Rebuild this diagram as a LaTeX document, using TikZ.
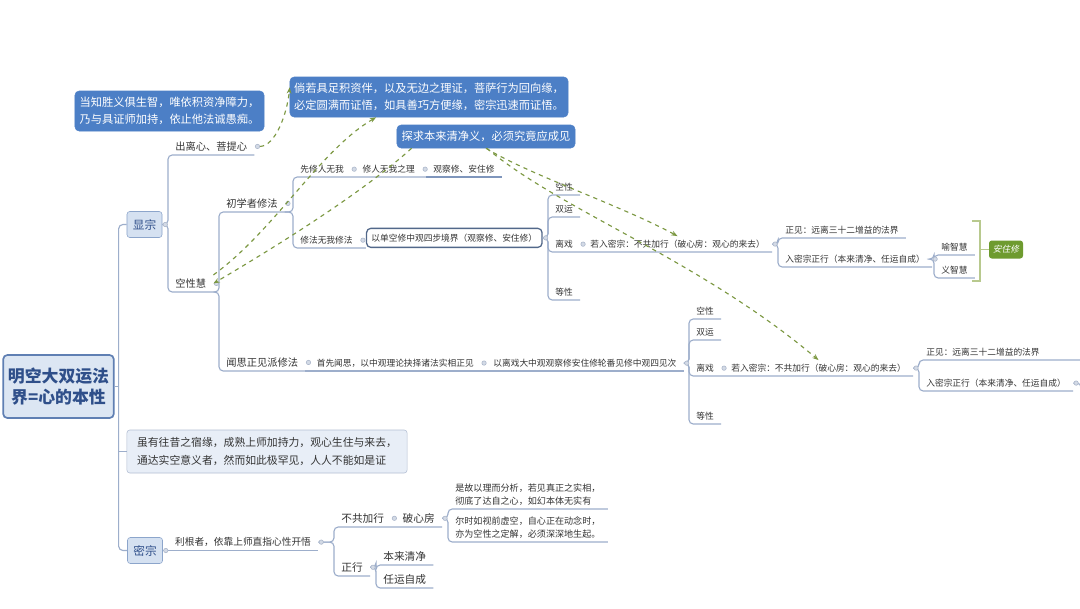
\documentclass[tikz,border=0pt]{standalone}
\usepackage{fontspec}
\setmainfont{Noto Sans CJK SC}
\newfontfamily\slantcjk{Noto Sans CJK SC}[FakeSlant=0.2]
\usetikzlibrary{arrows.meta,positioning,calc}

\definecolor{linec}{HTML}{9DAECB}
\definecolor{txtc}{HTML}{333333}
\definecolor{calloutc}{HTML}{4C7FC6}
\definecolor{rootf}{HTML}{DCE6F3}
\definecolor{rootd}{HTML}{5F7FB3}
\definecolor{roott}{HTML}{2F4F8A}
\definecolor{secf}{HTML}{D5E1F1}
\definecolor{secd}{HTML}{8CA5CB}
\definecolor{notef}{HTML}{E8EEF7}
\definecolor{noted}{HTML}{B3BFD3}
\definecolor{boxd}{HTML}{52688A}
\definecolor{selc}{HTML}{7F96BC}
\definecolor{relc}{HTML}{7C9842}
\definecolor{mkf}{HTML}{D3DAE6}
\definecolor{mkd}{HTML}{A9B5C9}
\definecolor{sumc}{HTML}{B8C98E}
\definecolor{greenbox}{HTML}{6E9B2F}

\newcommand\fsS{\fontsize{6.2}{7.6}\selectfont}
\newcommand\fsM{\fontsize{7.3}{9}\selectfont}
\newcommand\fsL{\fontsize{7.6}{9}\selectfont}
\newcommand\fsT{\fontsize{6.45}{9}\selectfont}
\newcommand\fsB{\fontsize{8}{12}\selectfont}

\begin{document}
\begin{tikzpicture}[x=0.025cm, y=-0.025cm,
    callout/.style={draw=calloutc, fill=calloutc, rounded corners=3pt, text=white, font=\fsB, align=left, inner sep=0pt},
    rootbox/.style={draw=rootd, fill=rootf, line width=1.2pt, rounded corners=3pt, text=roott, align=center, minimum width=2.675cm, minimum height=1.575cm, font=\fontsize{12}{15.5}\selectfont\bfseries},
    secbox/.style={draw=secd, fill=secf, rounded corners=2pt, text=roott, minimum width=0.875cm, minimum height=0.65cm, inner sep=0pt, font=\fontsize{8.3}{10}\selectfont},
    notebox/.style={draw=noted, fill=notef, rounded corners=2pt, text=txtc, align=left, minimum width=7cm, minimum height=1.075cm, inner sep=0pt, font=\fontsize{7.7}{13}\selectfont},
    tl/.style={anchor=south west, inner xsep=5pt, inner ysep=2.5pt, font=\fsS, text=txtc},
    tlbox/.style={anchor=south west, draw=boxd, fill=white, line width=0.9pt, rounded corners=3pt, minimum height=0.475cm, inner xsep=3.5pt, inner ysep=0pt, font=\fsS, text=txtc},
    br/.style={draw=linec, line width=0.8pt, rounded corners=3pt},
    mk/.style={circle, draw=mkd, fill=mkf, line width=0.4pt, inner sep=0pt, minimum size=0.11cm},
    rel/.style={draw=relc, dashed, line width=0.8pt, -{Stealth[length=4.5pt]}},
    sumln/.style={draw=sumc, line width=1pt},
    sumbox/.style={fill=greenbox, rounded corners=2pt, text=white, minimum width=0.85cm, minimum height=0.45cm, inner sep=0pt, font=\fsS\slantcjk}
]
\fill[white] (0,0) rectangle (1080,608);
\useasboundingbox (0,0) rectangle (1080,608);

% floating notes
\node[callout, minimum width=4.725cm, minimum height=1cm] (b1) at (169.5,111) {当知胜义俱生智，唯依积资净障力，\\乃与具证师加持，依止他法诚愚痴。};
\node[callout, minimum width=6.95cm, minimum height=1cm] (b2) at (429,97) {倘若具足积资伴，以及无边之理证，菩萨行为回向缘，\\必定圆满而证悟，如具善巧方便缘，密宗迅速而证悟。};
\node[callout, minimum width=4.45cm, minimum height=0.575cm] (b3) at (486,136.5) {探求本来清净义，必须究竟应成见};

% root and main branches
\node[rootbox] (root) at (58.5,386.5) {明空大双运法\\界=心的本性};
\node[secbox] (xz) at (144.5,224.5) {显宗};
\node[secbox] (mz) at (145,550.5) {密宗};
\node[notebox] (note) at (267,451.5) {虽有往昔之宿缘，成熟上师加持力，观心生住与来去，\\通达实空意义者，然而如此极罕见，人人不能如是证};

\coordinate (spine) at ($(root.east)+(4,0)$);
\draw[br] (root.east) -- (spine);
\draw[br] (spine) |- (xz.west);
\draw[br] (spine) |- (mz.west);
\draw[br] (note.west -| spine) -- (note.west);

% 显宗
\node[tl, font=\fsM] (chuli) at (168,155) {出离心、菩提心};
\node[tl, font=\fsM] (kxh) at (168,292) {空性慧};
\draw[br] (xz.east) -| (chuli.south west) -- (chuli.south east);
\draw[br] (xz.east) -| (kxh.south west) -- (kxh.south east);

\node[tl, font=\fsM] (chux) at (219,212) {初学者修法};
\node[tl, font=\fsM] (wensi) at (219,371) {闻思正见派修法};
\draw[br] (kxh.south east) -| (chux.south west) -- (chux.south east);
\draw[br] (kxh.south east) -| (wensi.south west) -- (wensi.south east);

% 初学者修法
\node[tl] (xian) at (293,177) {先修人无我};
\node[tl] (xiuli) at ($(xian.south east)+(4,0)$) {修人无我之理};
\node[tl] (gcx) at ($(xiuli.south east)+(4,0)$) {观察修、安住修};
\node[tl] (fawo) at (293,248) {修法无我修法};
\node[tlbox] (dk) at ($(fawo.south east)+(6,0)$) {以单空修中观四步境界（观察修、安住修）};
\draw[br] (chux.south east) -| (xian.south west) -- (gcx.south east);
\draw[br, draw=selc] (gcx.south west) -- (gcx.south east);
\draw[br] (chux.south east) -| (fawo.south west) -- (dk.south west);

\node[tl] (kx1) at (548,195) {空性};
\node[tl] (sy1) at (548,217) {双运};
\node[tl] (lx1) at (548,252) {离戏};
\node[tl] (dx1) at (548,300) {等性};
\node[tl] (rm1) at ($(lx1.south east)+(3,0)$) {若入密宗：不共加行（破心房：观心的来去）};
\draw[br] (dk.east) -| (kx1.south west) -- (kx1.south east);
\draw[br] (dk.east) -| (sy1.south west) -- (sy1.south east);
\draw[br] (dk.east) -| (lx1.south west) -- (rm1.south east);
\draw[br] (dk.east) -| (dx1.south west) -- (dx1.south east);

\node[tl] (zj1) at (778,238) {正见：远离三十二增益的法界};
\node[tl] (rz1) at (778,267) {入密宗正行（本来清净、任运自成）};
\draw[br] (rm1.east) -| (zj1.south west) -- (zj1.south east);
\draw[br] (rm1.east) -| (rz1.south west) -- (rz1.south east);

\node[tl] (yu) at (934,255) {喻智慧};
\node[tl] (yi) at (934,278) {义智慧};
\draw[br] (rz1.east) -| (yu.south west) -- (yu.south east);
\draw[br] (rz1.east) -| (yi.south west) -- (yi.south east);

% summary
\node[sumbox] (azx) at (1006,249.5) {安住修};
\coordinate (sumtop) at (972,221);
\coordinate (sumbot) at (972,281);
\draw[sumln] (sumtop) -- ++(8,0) |- (sumbot);
\draw[sumln] (azx.west) -- ++(-9,0);

% 闻思正见派修法
\node[tl] (sxws) at ($(wensi.south east)+(4,0)$) {首先闻思，以中观理论抉择诸法实相正见};
\node[tl] (yilx) at ($(sxws.south east)+(5,0)$) {以离戏大中观观察修安住修轮番见修中观四见次};
\draw[br] (wensi.south east) -- (yilx.south east);

\node[tl] (kx2) at (689,319) {空性};
\node[tl] (sy2) at (689,340) {双运};
\node[tl] (lx2) at (689,376) {离戏};
\node[tl] (dx2) at (689,424) {等性};
\node[tl] (rm2) at ($(lx2.south east)+(3,0)$) {若入密宗：不共加行（破心房：观心的来去）};
\draw[br] (yilx.east) -| (kx2.south west) -- (kx2.south east);
\draw[br] (yilx.east) -| (sy2.south west) -- (sy2.south east);
\draw[br] (yilx.east) -| (lx2.south west) -- (rm2.south east);
\draw[br] (yilx.east) -| (dx2.south west) -- (dx2.south east);

\node[tl] (zj2) at (919,360) {正见：远离三十二增益的法界};
\node[tl] (rz2) at (919,391) {入密宗正行（本来清净、任运自成）};
\draw[br] (rm2.east) -| (zj2.south west) -- ++(170,0);
\draw[br] (rm2.east) -| (rz2.south west) -- (rz2.south east);
\coordinate (rzcut) at (1081,420);
\draw[br] (rz2.east) -| (rzcut);

% 密宗
\node[tl, font=\fontsize{6.9}{9}\selectfont] (ligen) at ($(mz.east)+(5,0)$) {利根者，依靠上师直指心性开悟};
\draw[br] (mz.east) -- (ligen.south west) -- (ligen.south east);

\node[tl, font=\fsL] (bg) at (334,527) {不共加行};
\node[tl, font=\fsL] (pxf) at ($(bg.south east)+(4,0)$) {破心房};
\node[tl, font=\fsL] (zx) at (334,576) {正行};
\draw[br] (ligen.east) -| (bg.south west) -- (pxf.south east);
\draw[br] (ligen.east) -| (zx.south west) -- (zx.south east);

\node[tl, font=\fsT, align=left] (t1) at (448,509) {是故以理而分析，若见真正之实相，\\彻底了达自之心，如幻本体无实有};
\node[tl, font=\fsT, align=left] (t2) at (448,542) {尔时如视前虚空，自心正在动念时，\\亦为空性之定解，必须深深地生起。};
\draw[br] (pxf.east) -| (t1.south west) -- (t1.south east);
\draw[br] (pxf.east) -| (t2.south west) -- (t2.south east);

\node[tl, font=\fsL] (blqj) at (376,565) {本来清净};
\node[tl, font=\fsL] (ryzc) at (376,588) {任运自成};
\draw[br] (zx.east) -| (blqj.south west) -- (blqj.south east);
\draw[br] (zx.east) -| (ryzc.south west) -- (ryzc.south east);

% fold markers
\foreach \n in {xz,mz,chuli,kxh,chux,xian,xiuli,fawo,dk,lx1,rm1,rz1,wensi,sxws,yilx,lx2,rm2,rz2,ligen,bg,pxf,zx}
  \node[mk] (mk-\n) at ($(\n.east)+(3,0)$) {};

% relations
\draw[rel] (mk-chuli.east) .. controls (275,146) and (287,115) .. (b2.176);
\draw[rel] (kxh.north east) .. controls (275,230) and (320,150) .. (b2.201);
\draw[rel] (b3.189) .. controls (360,195) and (270,250) .. (kxh.east);
\draw[rel] (b3.south) .. controls (530,175) and (620,205) .. (rm1.north);
\draw[rel] (b3.-86) .. controls (560,210) and (700,260) .. (rm2.north);
\end{tikzpicture}
\end{document}
